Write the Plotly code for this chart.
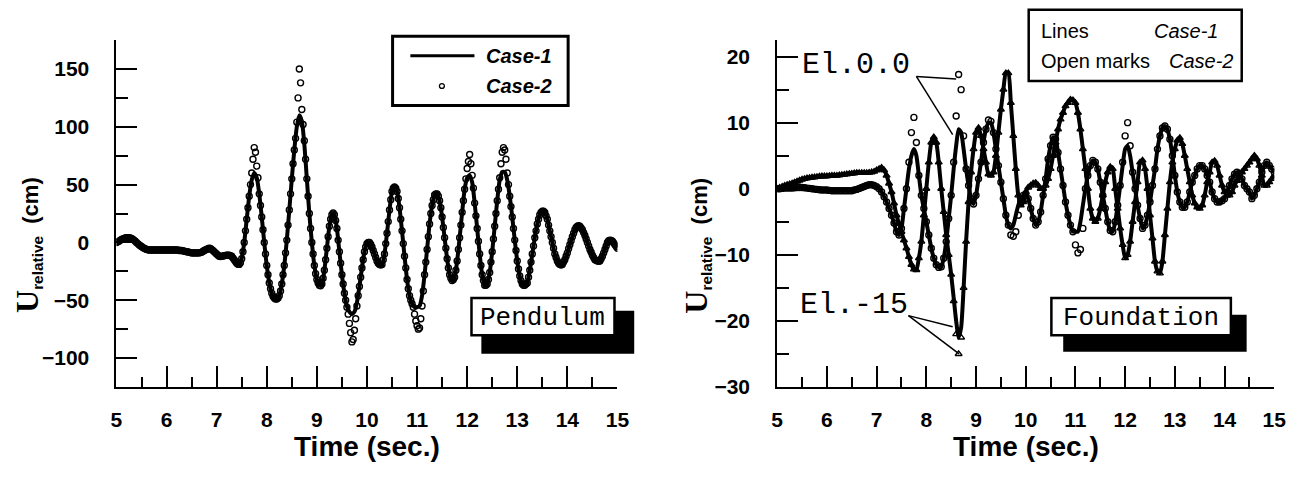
import plotly.graph_objects as go

W, H = 1305, 483

# ---------------- data ----------------
# Pendulum (left panel). Case-1 line sampled every 0.05 s, Case-2 marks every 0.025 s
time_pend = [round(5 + 0.05 * i, 3) for i in range(201)]
pend_case1 = [
    0, 1, 2.5, 3.5, 4, 4, 3.5, 2, 0, -2,
    -3.5, -5, -6, -6.5, -6.5, -6.5, -6.5, -6.5, -6.5, -6.5,
    -6.5, -6.5, -6.5, -6.5, -6.5, -7, -7, -7.5, -8, -8.5,
    -9, -9, -9, -9, -8.5, -7, -6, -5, -6, -8,
    -10, -12, -12, -11.5, -11, -11, -12, -15, -18, -19,
    -14, 0, 20, 40, 54, 60, 56, 42, 22, 0,
    -20, -35, -44, -48, -49, -46, -36, -20, 2, 28,
    55, 80, 100, 110, 105, 85, 55, 25, 0, -20,
    -32, -37, -36, -24, -5, 14, 24, 24, 12, -8,
    -28, -44, -55, -60, -62, -60, -52, -38, -22, -8,
    -1, 0, -4, -10, -16, -19, -19, -10, 8, 28,
    44, 49, 44, 30, 10, -12, -32, -46, -53, -56,
    -56, -55, -46, -28, -6, 16, 32, 41, 42, 36,
    22, 4, -14, -28, -33, -30, -16, 4, 26, 46,
    56, 58, 52, 34, 12, -10, -28, -37, -36, -26,
    -8, 14, 36, 54, 61, 61, 54, 40, 22, 2,
    -16, -29, -36, -37, -35, -24, -10, 4, 16, 24,
    27, 26, 20, 10, 0, -10, -16, -19, -19, -15,
    -9, -2, 5, 11, 14, 14, 11, 6, 0, -6,
    -11, -15, -16, -16, -12, -6, 0, 2, 1, -2,
    -5,
]
time_pend_marks = [round(5 + 0.025 * i, 3) for i in range(401)]
pend_case2 = [
    0, 0.5, 1, 1.8, 2.5, 3, 3.5, 3.8, 4, 4.1, 4, 3.8, 3.5, 2.8, 2, 1, 0, -1, -2, -2.8,
    -3.5, -4.3, -5, -5.5, -6, -6.3, -6.5, -6.5, -6.5, -6.5, -6.5, -6.5, -6.5, -6.5, -6.5, -6.5, -6.5, -6.5, -6.5, -6.5,
    -6.5, -6.5, -6.5, -6.5, -6.5, -6.5, -6.5, -6.5, -6.5, -6.5, -7, -7, -7, -7.2, -7.5, -7.8, -8, -8.2, -8.5, -8.8,
    -9, -9, -9, -9, -9, -9, -9, -8.8, -8.5, -7.8, -7, -6.5, -6, -5.5, -5, -5.3, -6, -7, -8, -9,
    -10, -11, -12, -12.2, -12, -11.8, -11.5, -11.2, -11, -11, -11, -11.5, -12, -13.5, -15, -16.5, -18, -18.8, -19, -17.5,
    -14, -8, 0, 10, 20, 30, 40, 50, 60, 72, 82, 78, 66, 56, 42, 32, 22, 11, 0, -10,
    -20, -28, -35, -40, -44, -46.5, -48, -49, -49, -48, -46, -42, -36, -28, -20, -9, 2, 15, 28, 42,
    55, 68, 80, 90, 104, 125, 150, 138, 115, 102, 88, 72, 55, 40, 25, 12, 0, -10, -20, -27,
    -32, -35, -37, -37.5, -36, -31, -24, -15, -5, 5, 14, 20, 24, 25.5, 24, 19, 12, 2, -8, -18,
    -28, -36, -44, -50, -56, -62, -70, -78, -86, -84, -76, -66, -55, -46, -38, -30, -22, -15, -8, -4,
    -1, 0, 0, -1.5, -4, -7, -10, -13, -16, -18, -19, -19.5, -19, -15, -10, -1, 8, 18, 28, 37,
    44, 47, 48, 47, 44, 38, 30, 20, 10, -1, -12, -22, -32, -40, -46, -50, -53, -56, -62, -68,
    -72, -75, -74, -66, -55, -42, -28, -17, -6, 5, 16, 25, 32, 37, 41, 42, 42, 40, 36, 30,
    22, 13, 4, -5, -14, -22, -28, -31, -33, -32, -30, -24, -16, -6, 4, 15, 26, 36, 46, 55,
    64, 70, 76, 68, 58, 47, 34, 23, 12, 1, -10, -20, -28, -33, -37, -37, -36, -32, -26, -17,
    -8, 3, 14, 25, 36, 46, 56, 68, 78, 82, 80, 72, 60, 50, 40, 31, 22, 12, 2, -7,
    -16, -23, -29, -33, -36, -37, -37, -36, -35, -30, -24, -17, -10, -3, 4, 10, 16, 20, 24, 26,
    27, 27, 26, 23, 20, 15, 10, 5, 0, -5, -10, -13, -16, -18, -19, -19.5, -19, -17, -15, -12,
    -9, -5.5, -2, 1.5, 5, 8, 11, 13, 14, 14.5, 14, 12.5, 11, 8.5, 6, 3, 0, -3, -6, -8.5,
    -11, -13, -15, -15.5, -16, -16.2, -16, -14, -12, -9, -6, -3, 0, 1.5, 2, 1.8, 1, -0.5, -2, -3.5,
    -5,
]

# Foundation (right panel), sampled every 0.05 s from 5 to 15 s
time_found = [round(5 + 0.05 * i, 3) for i in range(201)]
el0_case1 = [
    0, 0, 0.05, 0.1, 0.1, 0.1, 0.1, 0.15, 0.2, 0.2,
    0.2, 0.15, 0.1, 0.05, 0, -0.05, -0.1, -0.15, -0.2, -0.2,
    -0.2, -0.25, -0.3, -0.3, -0.3, -0.3, -0.3, -0.3, -0.3, -0.3,
    -0.3, -0.2, -0.1, 0.05, 0.2, 0.35, 0.5, 0.6, 0.6, 0.5,
    0.3, 0, -0.5, -1.2, -2, -3, -4, -5.2, -6.5, -7,
    -6, -3, 0, 3, 5, 6, 5, 2, -1, -3,
    -5, -7, -9, -10.5, -11.5, -11.9, -11.8, -10.5, -8, -4.5,
    -1, 3, 6.5, 9, 8.5, 6, 3, 0.5, -1.5, -2.3,
    -1, 1.5, 4, 7, 9, 10, 10, 8.5, 6, 3.5,
    1, -1.5, -4, -5.5, -6, -5.5, -4, -2.5, -1.5, -1,
    -0.8, -1.5, -3, -4.5, -5.5, -5, -3.5, -1, 1.5, 4.5,
    6.5, 7.8, 7.5, 5.5, 3, 0.5, -2, -4, -5.5, -6.5,
    -6.5, -6.5, -5, -2.5, 0, 2, 3.5, 4.3, 4, 3,
    1, -1, -3, -5, -6.3, -6.5, -5, -2.5, 0.5, 3.5,
    6, 6.5, 5, 2.5, 0, -2.5, -4.5, -6, -5.5, -4,
    -2, 0.5, 3, 6, 8, 9.2, 9.5, 9, 7.5, 5,
    2, -0.5, -2, -2.8, -2.8, -2, -0.5, 1, 2, 3,
    3.5, 3.5, 3, 2, 1, -0.5, -1.5, -2, -2, -1.8,
    -1.5, -0.5, 0.5, 1.5, 2.2, 2.5, 2.3, 1.5, 0.5, 0,
    -0.5, -1.5, -1, 0, 1, 2.5, 3.5, 4, 3.5, 3,
    2.5,
]
el0_case2 = [
    0, 0, 0.05, 0.1, 0.1, 0.1, 0.1, 0.15, 0.2, 0.2,
    0.2, 0.15, 0.1, 0.05, 0, -0.05, -0.1, -0.15, -0.2, -0.2,
    -0.2, -0.25, -0.3, -0.3, -0.3, -0.3, -0.3, -0.3, -0.3, -0.3,
    -0.3, -0.2, -0.1, 0.05, 0.2, 0.35, 0.5, 0.6, 0.6, 0.5,
    0.3, 0, -0.5, -1.2, -2, -3, -4, -5.2, -6.5, -7,
    -6, -3, 0, 4, 8.5, 10.8, 7, 2, -1, -3,
    -5, -7, -9, -10.5, -11.5, -11.9, -11.8, -10.5, -8, -4.5,
    -1, 4, 11, 17.3, 15, 8, 3, 0.5, -1.5, -2.3,
    -1, 1.5, 4, 7, 9, 10.4, 10.2, 8.5, 6, 3.5,
    1, -1.5, -4, -5.5, -7, -7.2, -6.5, -4, -2, -1,
    -0.8, -1.5, -3, -4.5, -5.5, -5, -3.5, -1, 1.5, 4.5,
    6.5, 7.8, 7.5, 5.5, 3, 0.5, -2, -4, -5.5, -6.5,
    -8.5, -9.7, -9.2, -6, 0, 2, 3.5, 4.3, 4, 3,
    1, -1, -3, -5, -6.3, -6.5, -5, -2.5, 0.5, 4,
    8, 10, 6.5, 2.5, 0, -2.5, -4.5, -6, -5.5, -4,
    -2, 0.5, 3, 6, 8, 9.2, 9.5, 9, 7.5, 5,
    2, -0.5, -2, -2.8, -2.8, -2, -0.5, 1, 2, 3,
    3.5, 3.5, 3, 2, 1, -0.5, -1.5, -2, -2, -1.8,
    -1.5, -0.5, 0.5, 1.5, 2.2, 2.5, 2.3, 1.5, 0.5, 0,
    -0.5, -1.5, -1, 0, 1, 2.5, 3.5, 4, 3.5, 3,
    2.5,
]
elm15_case1 = [
    0, 0.15, 0.3, 0.45, 0.6, 0.7, 0.8, 0.95, 1.1, 1.25,
    1.4, 1.5, 1.6, 1.65, 1.7, 1.75, 1.8, 1.85, 1.9, 1.9,
    1.9, 1.95, 2.0, 2.0, 2.0, 2.05, 2.1, 2.15, 2.2, 2.25,
    2.3, 2.35, 2.4, 2.4, 2.4, 2.4, 2.4, 2.45, 2.5, 2.6,
    2.8, 3.0, 3.2, 2.8, 2, 0.8, -0.5, -2.2, -4, -5.3,
    -6.5, -7.8, -9, -10.3, -11.5, -12.2, -12.3, -10.5, -8, -4,
    0, 4, 7, 7.8, 7, 4, 0, -3.5, -7, -10,
    -13, -16.5, -20, -22.5, -21, -15, -8, -2, 2.5, 6,
    8.5, 9.2, 8, 6, 4, 2.2, 2, 2.5, 5, 8.5,
    12, 15, 17.5, 17.5, 13, 8, 3, -1, -2.5, -2,
    -0.5, 0.2, 0.5, 0.8, 0.9, 0.5, 0, 0, 0.5, 1.5,
    3, 5, 7, 9, 10.5, 11.5, 12.5, 13, 13.5, 13.4,
    13, 11.5, 9, 6, 3, 0, -3, -4.5, -5, -4.5,
    -3, -1, 1, 2.5, 3.3, 3, 0, -3, -6, -8.5,
    -10.5, -10, -8, -5, -2, 1, 4, 4.3, 3, 0,
    -4, -7.5, -11, -12.5, -12.8, -11, -7, -3, 1, 4,
    6, 7.3, 7.7, 6.8, 5, 3, 1, -1, -2.2, -2.8,
    -3, -2.5, -1, 1, 2.5, 4, 4.2, 3.5, 2, 0.5,
    -0.5, -1, -1, -0.5, 0.5, 1.2, 1.8, 2.5, 3, 3.5,
    4, 4.5, 5, 4.5, 3.5, 2, 0.5, 0.5, 1, 1.5,
    2,
]
elm15_case2 = [
    0, 0.15, 0.3, 0.45, 0.6, 0.7, 0.8, 0.95, 1.1, 1.25,
    1.4, 1.5, 1.6, 1.65, 1.7, 1.75, 1.8, 1.85, 1.9, 1.9,
    1.9, 1.95, 2.0, 2.0, 2.0, 2.05, 2.1, 2.15, 2.2, 2.25,
    2.3, 2.35, 2.4, 2.4, 2.4, 2.4, 2.4, 2.45, 2.5, 2.6,
    2.8, 3.0, 3.2, 2.8, 2, 0.8, -0.5, -2.2, -4, -5.3,
    -6.5, -7.8, -9, -10.3, -11.5, -12.2, -12.3, -10.5, -8, -4,
    0, 4, 7, 7.8, 7, 4, 0, -3.5, -7, -10,
    -13, -17, -22, -25, -22.5, -15, -8, -2, 2.5, 6,
    8.5, 9.2, 8, 6, 4, 2.2, 2, 2.5, 5, 8.5,
    12, 15, 17.5, 17.5, 13, 8, 3, -1, -2.5, -2,
    -0.5, 0.2, 0.5, 0.8, 0.9, 0.5, 0, 0, 0.5, 1.5,
    3, 5, 7, 9, 10.5, 11.5, 12.5, 13, 13.5, 13.4,
    13, 11.5, 9, 6, 3, 0, -3, -4.5, -5, -4.5,
    -3, -1, 1, 2.5, 3.3, 3, 0, -3, -6, -8.5,
    -10.5, -10, -8, -5, -2, 1, 4, 4.3, 3, 0,
    -4, -7.5, -11, -12.5, -12.8, -11, -7, -3, 1, 4,
    6, 7.3, 7.7, 6.8, 5, 3, 1, -1, -2.2, -2.8,
    -3, -2.5, -1, 1, 2.5, 4, 4.2, 3.5, 2, 0.5,
    -0.5, -1, -1, -0.5, 0.5, 1.2, 1.8, 2.5, 3, 3.5,
    4, 4.5, 5, 4.5, 3.5, 2, 0.5, 0.5, 1, 1.5,
    2,
]

x_tick_labels = ["5", "6", "7", "8", "9", "10", "11", "12", "13", "14", "15"]
pend_y_ticks = [-100, -50, 0, 50, 100, 150]
found_y_ticks = [-30, -20, -10, 0, 10, 20]

# ---------------- figure ----------------
def px(x):
    return x / W


def py(y):
    return 1 - y / H


fig = go.Figure()
line_style = dict(color="black", width=4, shape="spline", smoothing=0.6)
circle_style = dict(symbol="circle-open", size=6, color="black", line=dict(width=1.4, color="black"))
tri_style = dict(symbol="triangle-up-open", size=6, color="black", line=dict(width=1.4, color="black"))

fig.add_trace(go.Scatter(x=time_pend, y=pend_case1, mode="lines", line=line_style,
                         xaxis="x", yaxis="y", showlegend=False))
fig.add_trace(go.Scatter(x=time_pend_marks, y=pend_case2, mode="markers", marker=circle_style,
                         xaxis="x", yaxis="y", showlegend=False))

fig.add_trace(go.Scatter(x=time_found, y=elm15_case1, mode="lines", line=line_style,
                         xaxis="x2", yaxis="y2", showlegend=False))
fig.add_trace(go.Scatter(x=time_found, y=elm15_case2, mode="markers", marker=tri_style,
                         xaxis="x2", yaxis="y2", showlegend=False))
fig.add_trace(go.Scatter(x=time_found, y=el0_case1, mode="lines", line=line_style,
                         xaxis="x2", yaxis="y2", showlegend=False))
fig.add_trace(go.Scatter(x=time_found, y=el0_case2, mode="markers", marker=circle_style,
                         xaxis="x2", yaxis="y2", showlegend=False))

tick_font = dict(family="Liberation Sans", size=21, color="black", weight="bold")
axis_common = dict(showline=True, linecolor="black", linewidth=2, ticks="inside",
                   tickwidth=1.5, tickcolor="black", showgrid=False, zeroline=False,
                   mirror=False, tickfont=tick_font)

x_vals = [int(v) for v in x_tick_labels]
xaxis_cfg = dict(range=[5, 15], tickmode="array", tickvals=x_vals, ticktext=x_tick_labels,
                 ticklen=21, ticklabelstandoff=13,
                 minor=dict(ticks="inside", ticklen=10, tickwidth=1.5, tickcolor="black",
                            tick0=5.5, dtick=1, showgrid=False),
                 **axis_common)

top_y, bot_y = 41, 396
fig.update_layout(
    width=W, height=H, margin=dict(l=0, r=0, t=0, b=0),
    plot_bgcolor="white", paper_bgcolor="white",
    xaxis=dict(domain=[px(112), px(620)], anchor="y", **xaxis_cfg),
    yaxis=dict(domain=[py(bot_y), py(top_y)], anchor="x", range=[-125, 175],
               tickmode="array", tickvals=pend_y_ticks, ticklen=21, ticklabelstandoff=21,
               minor=dict(ticks="inside", ticklen=12, tickwidth=1.5, tickcolor="black",
                          tickmode="array", tickvals=[-125, -75, -25, 25, 75, 125, 175], showgrid=False),
               **axis_common),
    xaxis2=dict(domain=[px(782), px(1286)], anchor="y2", **xaxis_cfg),
    yaxis2=dict(domain=[py(bot_y), py(top_y)], anchor="x2", range=[-30, 22.5],
                tickmode="array", tickvals=found_y_ticks, ticklen=21, ticklabelstandoff=21,
                minor=dict(ticks="inside", ticklen=12, tickwidth=1.5, tickcolor="black",
                           tickmode="array", tickvals=[-25, -15, -5, 5, 15], showgrid=False),
                **axis_common),
)

shapes = []
annotations = []


def text_at(x, y, text, font, xanchor="center", **kw):
    annotations.append(dict(x=px(x), y=py(y), xref="paper", yref="paper", text=text,
                            showarrow=False, xanchor=xanchor, yanchor="middle",
                            font=font, **kw))


ytitle = ('<span style="font-family:Liberation Serif;font-size:32px"><b>U</b></span>'
          '<b><sub>relative</sub></b><b>  (cm)</b>')
for xc in (22, 700):
    text_at(xc, 251, ytitle, dict(family="Liberation Sans", size=22, color="black"), textangle=-90)
for xc in (366, 1034):
    text_at(xc, 457, "<b>Time (sec.)</b>", dict(family="Liberation Sans", size=28, color="black"))

# left legend
shapes.append(dict(type="rect", xref="paper", yref="paper", x0=px(392), x1=px(570),
                   y0=py(108), y1=py(37), line=dict(color="black", width=3), fillcolor="white"))
shapes.append(dict(type="line", xref="paper", yref="paper", x0=px(410), x1=px(475),
                   y0=py(57), y1=py(57), line=dict(color="black", width=3)))
shapes.append(dict(type="circle", xref="paper", yref="paper", x0=px(439.5), x1=px(444.5),
                   y0=py(90.5), y1=py(85.5), line=dict(color="black", width=1.3)))
leg_font = dict(family="Liberation Sans", size=20, color="black")
text_at(556, 57, "<b><i>Case-1</i></b>", leg_font, xanchor="right")
text_at(556, 88, "<b><i>Case-2</i></b>", leg_font, xanchor="right")

# right legend
shapes.append(dict(type="rect", xref="paper", yref="paper", x0=px(1037), x1=px(1253),
                   y0=py(83), y1=py(10), line=dict(color="black", width=2.5), fillcolor="white"))
leg2_font = dict(family="Liberation Sans", size=20, color="black")
text_at(1047, 32, "Lines", leg2_font, xanchor="left")
text_at(1047, 62, "Open marks", leg2_font, xanchor="left")
text_at(1231, 32, "<i>Case-1</i>", leg2_font, xanchor="right")
text_at(1246, 62, "<i>Case-2</i>", leg2_font, xanchor="right")

# name boxes with shadow
for (bx0, by0, bx1, by1), (sx0, sy0, sx1, sy1), label in (
        ((472, 305, 617, 343), (482, 318, 637, 362), "Pendulum"),
        ((1060, 305, 1242, 343), (1072, 322, 1258, 360), "Foundation")):
    shapes.append(dict(type="rect", xref="paper", yref="paper", x0=px(sx0), x1=px(sx1),
                       y0=py(sy1), y1=py(sy0), line=dict(color="black", width=0), fillcolor="black"))
    shapes.append(dict(type="rect", xref="paper", yref="paper", x0=px(bx0), x1=px(bx1),
                       y0=py(by1), y1=py(by0), line=dict(color="black", width=2.5), fillcolor="white"))
    text_at((bx0 + bx1) / 2, (by0 + by1) / 2 + 1, label,
            dict(family="Liberation Mono", size=26, color="black"))

# elevation callouts
mono = dict(family="Liberation Mono", size=30, color="black")
text_at(805, 67, "El.0.0", mono, xanchor="left")
text_at(803, 312, "El.-15", mono, xanchor="left")
for (x0, y0), (x1, y1) in (((7.8, 17.0), (8.6, 16.6)), ((7.8, 17.0), (8.53, 8.2)),
                           ((7.64, -19.2), (8.53, -20.9)), ((7.64, -19.2), (8.66, -25.0))):
    shapes.append(dict(type="line", xref="x2", yref="y2", x0=x0, y0=y0, x1=x1, y1=y1,
                       line=dict(color="black", width=1.5)))

fig.update_layout(shapes=shapes, annotations=annotations)
fig.write_html("out.html", config={"displayModeBar": False},
               post_script="document.body.style.margin='0px';")
